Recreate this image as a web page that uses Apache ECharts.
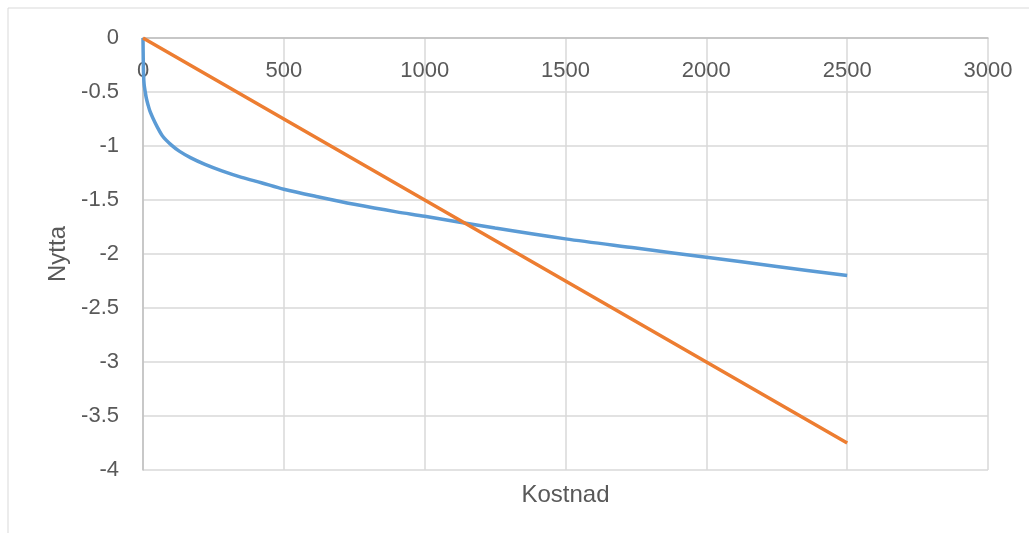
<!DOCTYPE html>
<html>
<head>
<meta charset="utf-8">
<script src="https://cdn.jsdelivr.net/npm/echarts@6/dist/echarts.min.js"></script>
<style>
html, body { margin: 0; padding: 0; background: #fff; }
#chart { width: 1029px; height: 533px; }
</style>
</head>
<body>
<div id="chart"></div>
<script>
// x ticks / labels
let xTicks = [0, 500, 1000, 1500, 2000, 2500, 3000]
// blue curve
let blueX = [0, 1, 2, 4, 8, 12, 18, 25, 35, 50, 70, 100, 130, 170, 220, 280, 350, 420, 500, 620, 750, 900, 1000, 1250, 1500, 1750, 2000, 2250, 2500]
let blueY = [0, -0.22, -0.34, -0.43, -0.5, -0.56, -0.62, -0.68, -0.74, -0.82, -0.91, -0.99, -1.05, -1.11, -1.17, -1.23, -1.29, -1.34, -1.40, -1.47, -1.54, -1.61, -1.65, -1.76, -1.86, -1.945, -2.03, -2.115, -2.20]
// orange straight line
let orangeX = [0, 500, 1000, 1500, 2000, 2500]
let orangeY = [0, -0.75, -1.5, -2.25, -3.0, -3.75]

let blueData = blueX.map((x, i) => [x, blueY[i]])
let orangeData = orangeX.map((x, i) => [x, orangeY[i]])

let textColor = '#595959'
let fontFamily = 'Liberation Sans, Arial, sans-serif'

let option = {
    animation: false,
    graphic: [{
        type: 'rect',
        shape: { x: 8, y: 8, width: 1100, height: 600 },
        style: { fill: 'none', stroke: '#d9d9d9', lineWidth: 1 }
    }],
    grid: { left: 143, right: 41, top: 38, bottom: 63 },
    xAxis: [{
        // axis crosses at y = 0, which is the top of the plot
        type: 'value',
        position: 'top',
        min: xTicks[0],
        max: xTicks[xTicks.length - 1],
        interval: 500,
        axisLine: { onZero: false, lineStyle: { color: '#bfbfbf', width: 1.5 } },
        axisTick: { show: false },
        axisLabel: {
            inside: true,
            color: textColor,
            fontSize: 22,
            fontFamily: fontFamily,
            margin: 22,
            formatter: function(v) { return String(v) }
        },
        splitLine: { lineStyle: { color: '#d9d9d9', width: 1.5 } }
    }, {
        type: 'value',
        position: 'bottom',
        min: xTicks[0],
        max: xTicks[xTicks.length - 1],
        axisLine: { show: false },
        axisTick: { show: false },
        axisLabel: { show: false },
        splitLine: { show: false },
        name: 'Kostnad',
        nameLocation: 'middle',
        nameGap: 13,
        nameTextStyle: { color: textColor, fontSize: 24, fontFamily: fontFamily }
    }],
    yAxis: {
        type: 'value',
        min: -4,
        max: 0,
        interval: 0.5,
        name: 'Nytta',
        nameLocation: 'middle',
        nameGap: 72,
        nameTextStyle: { color: textColor, fontSize: 24, fontFamily: fontFamily },
        axisLine: { show: true, onZero: false, lineStyle: { color: '#bfbfbf', width: 1.5 } },
        axisTick: { show: false },
        axisLabel: { color: textColor, fontSize: 22, fontFamily: fontFamily, margin: 24 },
        splitLine: { lineStyle: { color: '#d9d9d9', width: 1.5 } }
    },
    series: [{
        type: 'line',
        data: blueData,
        showSymbol: false,
        smooth: 0.3,
        lineStyle: { color: '#5b9bd5', width: 3.5 },
        itemStyle: { color: '#5b9bd5' }
    }, {
        type: 'line',
        data: orangeData,
        showSymbol: false,
        lineStyle: { color: '#ed7d31', width: 3.5 },
        itemStyle: { color: '#ed7d31' }
    }]
}

let myChart = echarts.init(document.getElementById('chart'))
myChart.setOption(option)
window.addEventListener('resize', function() {
    myChart.resize()
})
</script>
</body>
</html>
